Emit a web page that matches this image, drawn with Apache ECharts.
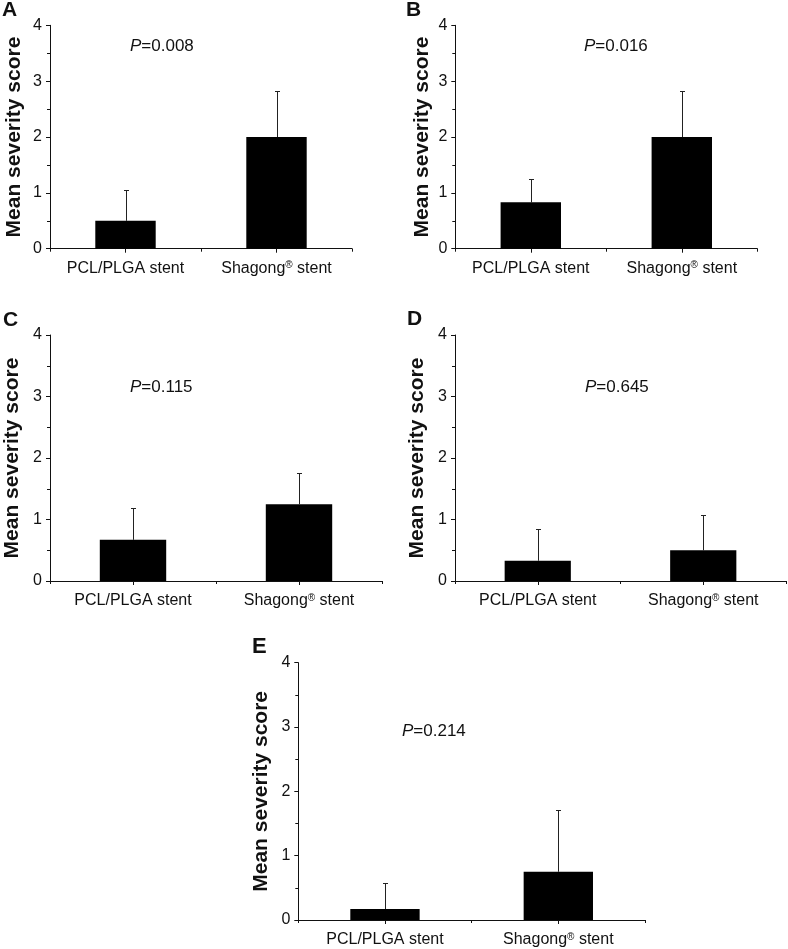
<!DOCTYPE html>
<html><head><meta charset="utf-8">
<script src="https://cdn.jsdelivr.net/npm/echarts@6/dist/echarts.min.js"></script>
<style>html,body{margin:0;padding:0;background:#fff}#c{width:788px;height:949px}</style>
</head><body><div id="c"></div><script>
// ---------- data ----------
const categories = ['PCL/PLGA stent', 'Shagong® stent'];
const panelLetters = ['A', 'B', 'C', 'D', 'E'];
const pValues = ['0.008', '0.016', '0.115', '0.645', '0.214'];
const yAxisTitle = 'Mean severity score';
const yMin = 0, yMax = 4, yInterval = 1;

const meanA = [0.50, 2.00]; const sdA = [0.55, 0.82];
const meanB = [0.83, 2.00]; const sdB = [0.41, 0.83];
const meanC = [0.67, 1.25]; const sdC = [0.52, 0.50];
const meanD = [0.33, 0.50]; const sdD = [0.52, 0.58];
const meanE = [0.17, 0.75]; const sdE = [0.41, 0.96];
const means = [meanA, meanB, meanC, meanD, meanE];
const sds = [sdA, sdB, sdC, sdD, sdE];

// ---------- layout ----------
const FONT = '"Liberation Sans", Arial, Helvetica, sans-serif';
const INK = '#111';
const grids = [
  {left: 50,  top: 25.3, width: 302, height: 223.4},
  {left: 455.3, top: 25.3, width: 302, height: 223.4},
  {left: 50,  top: 335, width: 332, height: 246},
  {left: 455, top: 335, width: 331, height: 246},
  {left: 298.3, top: 662.7, width: 346.7, height: 257.3}
];
const nameGaps = [25, 23, 27, 27.5, 27];
const letterPos = [[2, 0], [406, 0], [3, 310], [407, 309], [252, 636]];
const pPos = [[130, 38], [584, 38], [130, 379], [585, 379], [402, 723]];

const option = {
  animation: false,
  backgroundColor: '#fff',
  grid: grids.map(g => Object.assign({containLabel: false}, g)),
  title: [],
  xAxis: [],
  yAxis: [],
  series: []
};

const labelFormatter = v => v.replace('®', '{sup|®}');

grids.forEach((g, i) => {
  // category axis: labels and ticks at category centres
  option.xAxis.push({
    type: 'category', gridIndex: i, data: categories, position: 'bottom',
    axisLine: {show: true, lineStyle: {color: INK, width: 1}},
    axisTick: {show: true, alignWithLabel: true, interval: 0, length: 4, lineStyle: {color: INK}},
    axisLabel: {
      show: true, interval: 0, hideOverlap: false, margin: 12, fontSize: 16, color: INK, fontFamily: FONT,
      formatter: labelFormatter,
      rich: {sup: {fontSize: 10, fontFamily: FONT, color: INK, verticalAlign: 'top', lineHeight: 10, padding: [0, 0, 6, 0]}}
    },
    splitLine: {show: false}
  });
  // companion axis: short ticks at category boundaries
  option.xAxis.push({
    type: 'category', gridIndex: i, data: categories, position: 'bottom',
    axisLine: {show: false},
    axisTick: {show: true, interval: 0, length: 3, lineStyle: {color: INK}},
    axisLabel: {show: false},
    splitLine: {show: false}
  });
  option.yAxis.push({
    type: 'value', gridIndex: i, min: yMin, max: yMax, interval: yInterval,
    name: yAxisTitle, nameLocation: 'middle', nameGap: nameGaps[i],
    nameTextStyle: {fontSize: 21, fontWeight: 'bold', color: INK, fontFamily: FONT},
    axisLine: {show: true, lineStyle: {color: INK, width: 1}},
    axisTick: {show: true, length: 4, lineStyle: {color: INK}},
    minorTick: {show: true, splitNumber: 2, length: 3, lineStyle: {color: INK}},
    axisLabel: {margin: 8, fontSize: 16, color: INK, fontFamily: FONT},
    splitLine: {show: false}
  });
  option.series.push({
    type: 'bar', xAxisIndex: 2 * i, yAxisIndex: i, data: means[i],
    barWidth: '40%', itemStyle: {color: '#000'}, z: 3
  });
  option.series.push({
    type: 'custom', xAxisIndex: 2 * i, yAxisIndex: i, z: 2,
    data: means[i].map((m, k) => [k, m, m + sds[i][k]]),
    renderItem: (params, api) => {
      const base = api.coord([api.value(0), api.value(1)]);
      const top = api.coord([api.value(0), api.value(2)]);
      const x = Math.round(base[0]) + 0.5;
      const ty = Math.round(top[1]) + 0.5;
      return {
        type: 'group',
        children: [
          {type: 'line', shape: {x1: x, y1: base[1], x2: x, y2: ty}, style: {stroke: '#222', lineWidth: 1}},
          {type: 'line', shape: {x1: x - 2.5, y1: ty, x2: x + 2.5, y2: ty}, style: {stroke: '#222', lineWidth: 1}}
        ]
      };
    }
  });
  option.title.push({
    text: panelLetters[i], left: letterPos[i][0], top: letterPos[i][1], padding: 0,
    textStyle: {fontSize: i === 4 ? 22 : 21, fontWeight: 'bold', color: INK, fontFamily: FONT}
  });
  option.title.push({
    text: '{it|P}=' + pValues[i], left: pPos[i][0], top: pPos[i][1], padding: 0,
    textStyle: {
      fontSize: 17, fontWeight: 'normal', color: INK, fontFamily: FONT,
      rich: {it: {fontSize: 17, fontStyle: 'italic', color: INK, fontFamily: FONT}}
    }
  });
});

const chart = echarts.init(document.getElementById('c'), null, {renderer: 'canvas'});
chart.setOption(option);
</script></body></html>
